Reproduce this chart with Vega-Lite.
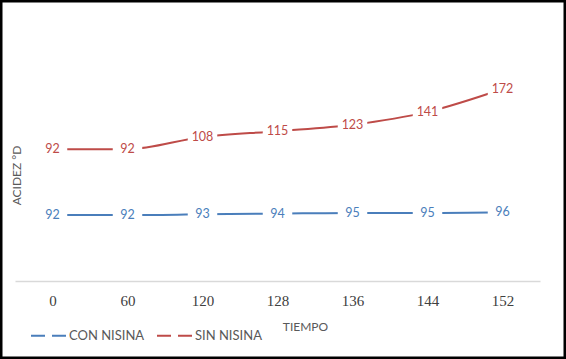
{
  "$schema": "https://vega.github.io/schema/vega-lite/v6.json",
  "width": 566,
  "height": 359,
  "autosize": {"type": "none"},
  "padding": 0,
  "background": "white",
  "config": {
    "view": {"stroke": "black", "strokeWidth": 5},
    "axis": {"grid": false}
  },
  "data": {
    "values": [
      {"t": 0, "serie": "CON NISINA", "valor": 92},
      {"t": 60, "serie": "CON NISINA", "valor": 92},
      {"t": 120, "serie": "CON NISINA", "valor": 93},
      {"t": 128, "serie": "CON NISINA", "valor": 94},
      {"t": 136, "serie": "CON NISINA", "valor": 95},
      {"t": 144, "serie": "CON NISINA", "valor": 95},
      {"t": 152, "serie": "CON NISINA", "valor": 96},
      {"t": 0, "serie": "SIN NISINA", "valor": 92},
      {"t": 60, "serie": "SIN NISINA", "valor": 92},
      {"t": 120, "serie": "SIN NISINA", "valor": 108},
      {"t": 128, "serie": "SIN NISINA", "valor": 115},
      {"t": 136, "serie": "SIN NISINA", "valor": 123},
      {"t": 144, "serie": "SIN NISINA", "valor": 141},
      {"t": 152, "serie": "SIN NISINA", "valor": 172}
    ]
  },
  "transform": [
    {"stack": "valor", "groupby": ["t"], "sort": [{"field": "serie", "order": "ascending"}], "as": ["y0", "y1"]}
  ],
  "encoding": {
    "x": {
      "field": "t", "type": "ordinal",
      "scale": {"range": [15, 540], "padding": 0.5},
      "axis": {
        "title": "TIEMPO", "offset": -78, "ticks": false,
        "domainColor": "#d9d9d9", "domainWidth": 1.5,
        "labelAngle": 0, "labelFont": "Liberation Serif", "labelFontSize": 15,
        "labelColor": "#404040", "labelPadding": 12,
        "titleFont": "Lato", "titleFontSize": 12, "titleFontWeight": "normal",
        "titleColor": "#595959", "titleX": 305, "titleY": 40
      }
    },
    "y": {
      "field": "y1", "type": "quantitative",
      "scale": {"domain": [0, 300], "range": [281, 66], "nice": false, "zero": true},
      "axis": {
        "title": "ACIDEZ °D", "domain": false, "ticks": false, "labels": false,
        "titleFont": "Lato", "titleFontSize": 12, "titleFontWeight": "normal",
        "titleColor": "#595959", "titleX": 16, "titleY": 175, "titleAngle": -90,
        "titleAlign": "center", "titleBaseline": "middle"
      }
    }
  },
  "layer": [
    {
      "mark": {"type": "line", "strokeWidth": 2, "interpolate": "monotone"},
      "encoding": {
        "color": {
          "field": "serie", "type": "nominal",
          "scale": {"domain": ["CON NISINA", "SIN NISINA"], "range": ["#4a7ebb", "#be4b48"]},
          "legend": {
            "title": null, "orient": "none", "direction": "horizontal",
            "legendX": 30, "legendY": 317,
            "symbolType": "stroke", "symbolSize": 1225, "symbolStrokeWidth": 2,
            "symbolDash": [14, 7],
            "labelFont": "Lato", "labelFontSize": 13, "labelColor": "#595959",
            "labelOffset": 2, "columnPadding": 8
          }
        }
      }
    },
    {
      "mark": {"type": "point", "shape": "M-1,-0.55H1V0.55H-1Z", "filled": true, "color": "white", "opacity": 1, "size": 870}
    },
    {
      "mark": {"type": "text", "font": "Lato", "fontSize": 12.5, "baseline": "middle", "align": "center"},
      "encoding": {
        "text": {"field": "valor", "type": "quantitative"},
        "color": {"field": "serie", "type": "nominal", "legend": null}
      }
    }
  ]
}
